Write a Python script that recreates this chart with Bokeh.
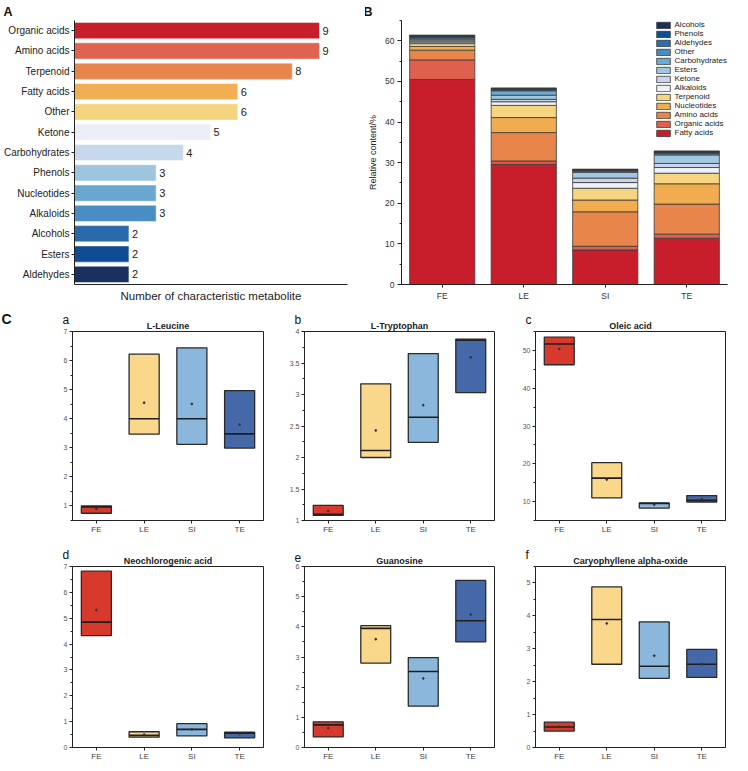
from bokeh.plotting import figure
from bokeh.models import (FactorRange, Range1d, Legend, LegendItem, Title,
                          SingleIntervalTicker, FixedTicker, ColumnDataSource)
from bokeh.layouts import column, row
from bokeh.embed import file_html
from bokeh.resources import INLINE

FONT = "Liberation Sans"

# ---------------- Panel A data ----------------
a_classes = ["Organic acids", "Amino acids", "Terpenoid", "Fatty acids", "Other",
             "Ketone", "Carbohydrates", "Phenols", "Nucleotides", "Alkaloids",
             "Alcohols", "Esters", "Aldehydes"]
a_counts = [9, 9, 8, 6, 6, 5, 4, 3, 3, 3, 2, 2, 2]
a_colors = ["#C81D2A", "#E0634F", "#E8854A", "#F2AE52", "#F4D47E", "#ECEFF7",
            "#C6D9EB", "#9DC6DE", "#6AA7D0", "#4A8DC2", "#2B6AAA", "#0E4D94", "#1A305E"]

# ---------------- Panel B data ----------------
b_groups = ["FE", "LE", "SI", "TE"]
b_classes = ["Fatty acids", "Organic acids", "Amino acids", "Nucleotides", "Terpenoid",
             "Alkaloids", "Ketone", "Esters", "Carbohydrates", "Other", "Aldehydes",
             "Phenols", "Alcohols"]
b_fatty = [50.5, 29.6, 8.5, 11.4]
b_organic = [4.8, 0.8, 0.9, 1.0]
b_amino = [2.4, 7.0, 8.5, 7.4]
b_nucleotides = [0.9, 3.7, 2.9, 5.0]
b_terpenoid = [0.7, 3.0, 2.9, 2.6]
b_alkaloids = [0.4, 0.9, 1.4, 1.4]
b_ketone = [0.3, 0.6, 1.1, 1.0]
b_esters = [0.4, 1.0, 1.4, 2.1]
b_carbohydrates = [0.3, 1.1, 0.3, 0.3]
b_other = [0.2, 0.2, 0.2, 0.2]
b_aldehydes = [0.2, 0.2, 0.1, 0.2]
b_phenols = [0.1, 0.1, 0.1, 0.1]
b_alcohols = [0.2, 0.2, 0.1, 0.2]
b_colors = ["#C81D2A", "#E0604E", "#E8854A", "#F2AC50", "#F5D57F", "#EEF1F8",
            "#C9D3EC", "#A1C8E0", "#6FAAD2", "#4A8CC2", "#2E6DAE", "#0E4E95", "#1A2F5E"]

# ---------------- Panel C data ----------------
c_groups = ["FE", "LE", "SI", "TE"]
c_colors = ["#D73A2C", "#F9D88C", "#8CB7DC", "#4468A8"]

leucine_q1 = [0.75, 3.47, 3.12, 2.99]
leucine_med = [0.97, 4.0, 4.0, 3.48]
leucine_q3 = [1.0, 6.22, 6.44, 4.97]
leucine_mean = [0.9, 4.55, 4.51, 3.8]

tryptophan_q1 = [1.08, 2.0, 2.24, 3.03]
tryptophan_med = [1.1, 2.11, 2.64, 3.86]
tryptophan_q3 = [1.24, 3.17, 3.65, 3.88]
tryptophan_mean = [1.15, 2.43, 2.83, 3.59]

oleic_q1 = [46.2, 11.0, 8.3, 9.9]
oleic_med = [51.7, 16.2, 9.5, 10.35]
oleic_q3 = [53.5, 20.3, 9.65, 11.6]
oleic_mean = [50.4, 15.85, 9.2, 10.7]

neochloro_q1 = [4.33, 0.40, 0.45, 0.37]
neochloro_med = [4.85, 0.47, 0.70, 0.55]
neochloro_q3 = [6.82, 0.61, 0.92, 0.59]
neochloro_mean = [5.32, 0.50, 0.70, 0.53]

guanosine_q1 = [0.35, 2.80, 1.37, 3.50]
guanosine_med = [0.75, 3.95, 2.52, 4.20]
guanosine_q3 = [0.85, 4.04, 2.98, 5.54]
guanosine_mean = [0.64, 3.59, 2.29, 4.41]

caryo_q1 = [0.50, 2.53, 2.10, 2.13]
caryo_med = [0.625, 3.89, 2.47, 2.53]
caryo_q3 = [0.77, 4.88, 3.82, 2.98]
caryo_mean = [0.63, 3.77, 2.79, 2.53]


def style_text_axis(ax, size="8px", color="#333333"):
    ax.major_label_text_font = FONT
    ax.major_label_text_font_size = size
    ax.major_label_text_color = color
    ax.axis_label_text_font = FONT
    ax.axis_label_text_font_style = "normal"
    ax.axis_line_color = "#222222"
    ax.major_tick_line_color = "#222222"
    ax.minor_tick_line_color = "#222222"


def letter_title(text, offset, size, bold, standoff):
    return Title(text=text, align="left", offset=offset, standoff=standoff,
                 text_font=FONT, text_font_size=size,
                 text_font_style="bold" if bold else "normal", text_color="#111111")


# ---------------- Panel A ----------------
pA = figure(width=365, height=305, output_backend="svg", toolbar_location=None,
            x_range=Range1d(0, 10.03),
            y_range=FactorRange(*list(reversed(a_classes)), range_padding=0),
            min_border_left=72, min_border_right=18, min_border_top=20, min_border_bottom=20)
pA.outline_line_color = None
pA.grid.visible = False
srcA = ColumnDataSource(dict(cls=a_classes, n=a_counts, c=a_colors,
                             lab=[str(v) for v in a_counts]))
pA.hbar(y="cls", left=0, right="n", height=0.8, fill_color="c",
        line_color="white", line_width=0.8, line_alpha=0.6, source=srcA)
pA.text(x="n", y="cls", text="lab", source=srcA, x_offset=3,
        text_font_size="11px", text_baseline="middle", text_color="#222222",
        text_font={"value": FONT})
style_text_axis(pA.yaxis[0], "10px", "#222222")
pA.yaxis.major_tick_out = 3
pA.yaxis.major_tick_in = 0
pA.yaxis.major_label_standoff = 2
pA.xaxis.ticker = FixedTicker(ticks=[])
style_text_axis(pA.xaxis[0])
pA.xaxis.axis_label = "Number of characteristic metabolite"
pA.xaxis.axis_label_text_font_size = "11.5px"
pA.xaxis.axis_label_text_color = "#222222"
pA.xaxis.axis_label_standoff = 5
pA.add_layout(letter_title("A", -71, "12.5px", True, 4), "above")

# ---------------- Panel B ----------------
pB = figure(width=375, height=305, output_backend="svg", toolbar_location=None,
            x_range=FactorRange(*b_groups, range_padding=0), y_range=Range1d(0, 65),
            min_border_left=34, min_border_right=13, min_border_top=20, min_border_bottom=21)
pB.outline_line_color = None
pB.grid.visible = False
srcB = ColumnDataSource(dict(g=b_groups, **{
    "Fatty acids": b_fatty, "Organic acids": b_organic, "Amino acids": b_amino,
    "Nucleotides": b_nucleotides, "Terpenoid": b_terpenoid, "Alkaloids": b_alkaloids,
    "Ketone": b_ketone, "Esters": b_esters, "Carbohydrates": b_carbohydrates,
    "Other": b_other, "Aldehydes": b_aldehydes, "Phenols": b_phenols,
    "Alcohols": b_alcohols}))
rendsB = pB.vbar_stack(b_classes, x="g", width=0.8, color=b_colors, source=srcB,
                       line_color="#3a3a3a", line_width=0.8)
items = [LegendItem(label=name, renderers=[r]) for name, r in zip(b_classes, rendsB)]
legB = Legend(items=list(reversed(items)), location="top_right",
              label_text_font=FONT, label_text_font_size="8px", label_text_color="#222222",
              glyph_height=8, glyph_width=17, label_height=8, label_standoff=3,
              spacing=0, padding=0, margin=0, border_line_color=None,
              background_fill_alpha=0)
pB.add_layout(legB)
style_text_axis(pB.xaxis[0], "8.5px", "#333333")
style_text_axis(pB.yaxis[0], "8.5px", "#333333")
pB.yaxis.ticker = SingleIntervalTicker(interval=10, num_minor_ticks=2)
pB.yaxis.major_tick_out = 4
pB.yaxis.major_tick_in = 0
pB.yaxis.minor_tick_out = 2
pB.yaxis.minor_tick_in = 0
pB.yaxis.major_label_standoff = 3
pB.yaxis.axis_label = "Relative content/%"
pB.yaxis.axis_label_text_font_size = "9px"
pB.yaxis.axis_label_text_color = "#222222"
pB.yaxis.axis_label_standoff = 4
pB.xaxis.major_tick_out = 3
pB.xaxis.major_tick_in = 0
pB.xaxis.major_label_standoff = 3
pB.add_layout(letter_title("B", -38, "12.5px", True, 4), "above")


# ---------------- Panel C ----------------
def box_panel(title, letter, q1, med, q3, mean, ylo, yhi, ticks, minor,
              width, bl, br, height, bt, bb, big=None):
    p = figure(width=width, height=height, output_backend="svg", toolbar_location=None,
               x_range=FactorRange(*c_groups, range_padding=0), y_range=Range1d(ylo, yhi),
               min_border_left=bl, min_border_right=br, min_border_top=bt, min_border_bottom=bb)
    p.grid.visible = False
    p.outline_line_color = "#222222"
    p.outline_line_width = 1
    src = ColumnDataSource(dict(g=c_groups, q1=q1, med=med, q3=q3, mean=mean, c=c_colors))
    p.vbar(x="g", bottom="q1", top="q3", width=0.63, fill_color="c",
           line_color="#2a2a2a", line_width=1.3, source=src)
    p.rect(x="g", y="med", width=0.63, height=1.6, height_units="screen",
           fill_color="#1e1e1e", line_color=None, source=src)
    p.scatter(x="g", y="mean", size=1.8, color="#333333", source=src)
    # compound name (nearest the frame) and panel letter on the same line
    p.add_layout(Title(text=title, align="center", standoff=1, text_font=FONT,
                       text_font_size="9px", text_font_style="bold",
                       text_color="#222222"), "above")
    p.add_layout(letter_title(letter, -10, "12px", False, -17), "above")
    if big:
        p.add_layout(letter_title(big, -71, "14px", True, -17), "above")
    style_text_axis(p.yaxis[0], "7px", "#555555")
    style_text_axis(p.xaxis[0], "8px", "#444444")
    p.yaxis.ticker = FixedTicker(ticks=ticks, minor_ticks=minor)
    p.yaxis.major_tick_out = 3
    p.yaxis.major_tick_in = 0
    p.yaxis.minor_tick_out = 2
    p.yaxis.minor_tick_in = 0
    p.yaxis.major_label_standoff = 2
    p.xaxis.major_tick_out = 3
    p.xaxis.major_tick_in = 0
    p.xaxis.major_label_standoff = 1
    return p


def steps(a, b, s):
    out, v = [], a
    while v <= b + 1e-9:
        out.append(round(v, 4))
        v += s
    return out


r2 = dict(height=236, bt=26, bb=21)
r3 = dict(height=222, bt=25, bb=15)
fa = box_panel("L-Leucine", "a", leucine_q1, leucine_med, leucine_q3, leucine_mean,
               0.5, 7, steps(1, 7, 1), steps(0.5, 7, 0.5), width=284, bl=72, br=21, big="C", **r2)
fb = box_panel("L-Tryptophan", "b", tryptophan_q1, tryptophan_med, tryptophan_q3, tryptophan_mean,
               1.0, 4.0, steps(1.0, 4.0, 0.5), steps(1.0, 4.0, 0.25), width=231, bl=20, br=21, **r2)
fc = box_panel("Oleic acid", "c", oleic_q1, oleic_med, oleic_q3, oleic_mean,
               5, 55, steps(10, 50, 10), steps(5, 55, 5), width=225, bl=20, br=15, **r2)
fd = box_panel("Neochlorogenic acid", "d", neochloro_q1, neochloro_med, neochloro_q3, neochloro_mean,
               0, 7, steps(0, 7, 1), steps(0, 7, 0.5), width=284, bl=72, br=21, **r3)
fe = box_panel("Guanosine", "e", guanosine_q1, guanosine_med, guanosine_q3, guanosine_mean,
               0, 6, steps(0, 6, 1), steps(0, 6, 0.5), width=231, bl=20, br=21, **r3)
ff = box_panel("Caryophyllene alpha-oxide", "f", caryo_q1, caryo_med, caryo_q3, caryo_mean,
               0, 5.5, steps(0, 5, 1), steps(0, 5.5, 0.5), width=225, bl=20, br=15, **r3)

layout = column(row(pA, pB), row(fa, fb, fc), row(fd, fe, ff))
open("out.html", "w").write(file_html(layout, INLINE))
